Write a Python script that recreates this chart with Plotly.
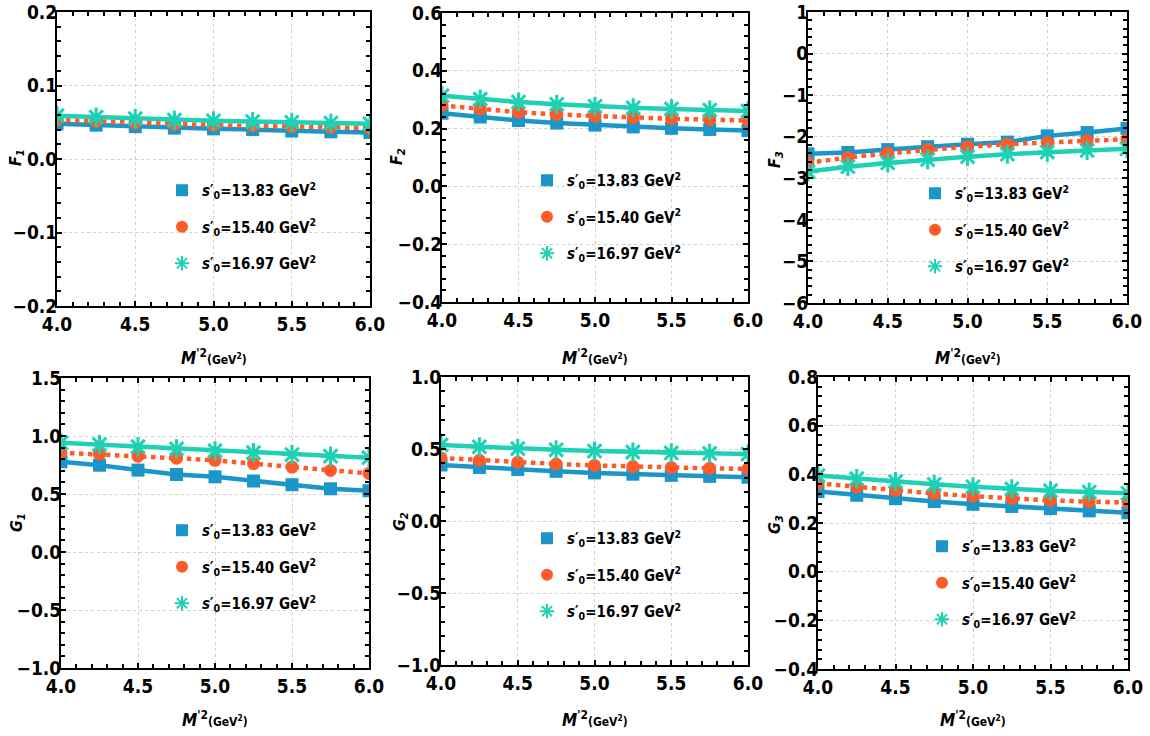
import plotly.graph_objects as go

W, H = 1150, 736

m2 = [4.0, 4.25, 4.5, 4.75, 5.0, 5.25, 5.5, 5.75, 6.0]

series_names = ["13.83", "15.40", "16.97"]

F1_a = [0.048, 0.046, 0.044, 0.042, 0.041, 0.040, 0.038, 0.037, 0.036]
F1_b = [0.053, 0.051, 0.049, 0.047, 0.046, 0.045, 0.044, 0.043, 0.042]
F1_c = [0.059, 0.057, 0.055, 0.053, 0.052, 0.051, 0.050, 0.049, 0.048]

F2_a = [0.253, 0.240, 0.228, 0.219, 0.212, 0.206, 0.201, 0.197, 0.193]
F2_b = [0.280, 0.268, 0.257, 0.249, 0.243, 0.238, 0.234, 0.231, 0.228]
F2_c = [0.314, 0.302, 0.292, 0.284, 0.277, 0.272, 0.268, 0.264, 0.261]

F3_a = [-2.41, -2.38, -2.31, -2.24, -2.18, -2.13, -1.98, -1.90, -1.80]
F3_b = [-2.63, -2.50, -2.40, -2.31, -2.24, -2.18, -2.14, -2.10, -2.06]
F3_c = [-2.84, -2.72, -2.63, -2.55, -2.48, -2.42, -2.37, -2.33, -2.29]

G1_a = [0.778, 0.748, 0.706, 0.668, 0.648, 0.612, 0.580, 0.545, 0.528]
G1_b = [0.856, 0.843, 0.826, 0.808, 0.790, 0.762, 0.732, 0.703, 0.677]
G1_c = [0.942, 0.926, 0.908, 0.890, 0.873, 0.856, 0.840, 0.826, 0.813]

G2_a = [0.389, 0.372, 0.357, 0.345, 0.334, 0.325, 0.317, 0.310, 0.304]
G2_b = [0.438, 0.422, 0.408, 0.396, 0.386, 0.378, 0.371, 0.366, 0.362]
G2_c = [0.528, 0.515, 0.503, 0.494, 0.486, 0.479, 0.473, 0.469, 0.465]

G3_a = [0.329, 0.314, 0.300, 0.288, 0.277, 0.268, 0.259, 0.250, 0.242]
G3_b = [0.363, 0.348, 0.334, 0.321, 0.310, 0.301, 0.293, 0.288, 0.284]
G3_c = [0.395, 0.382, 0.370, 0.359, 0.349, 0.340, 0.333, 0.327, 0.322]

panel_labels = ["F<sub>1</sub>", "F<sub>2</sub>", "F<sub>3</sub>",
                "G<sub>1</sub>", "G<sub>2</sub>", "G<sub>3</sub>"]
x_title = "<i>M</i><sup>'2</sup><span style='font-size:12px'>(GeV<sup>2</sup>)</span>"
panel_data = [(F1_a, F1_b, F1_c), (F2_a, F2_b, F2_c), (F3_a, F3_b, F3_c),
              (G1_a, G1_b, G1_c), (G2_a, G2_b, G2_c), (G3_a, G3_b, G3_c)]
y_ranges = [(-0.2, 0.2), (-0.4, 0.6), (-6, 1), (-1.0, 1.5), (-1.0, 1.0), (-0.4, 0.8)]
y_dticks = [0.1, 0.2, 1, 0.5, 0.5, 0.2]
y_fmt = [".1f", ".1f", "d", ".1f", ".1f", ".1f"]

# pixel boxes (left, right, top, bottom)
boxes = [(57, 370, 12, 306), (442, 748, 13, 302), (808, 1127, 12, 303),
         (61, 369, 378, 668), (441, 748, 377, 665), (818, 1128, 377, 669)]
# pixel position of the first legend marker centre
leg_pos = [(183, 190), (548, 180), (936, 193), (183, 530), (548, 538), (943, 546)]
ytitle_pos = [(16, 158), (398, 157), (776, 160), (17, 523), (400, 522), (775, 525)]
xtitle_y = [357, 357, 357, 719, 719, 719]


def fx(px):
    return px / W


def fy(py):
    return 1 - py / H


colors = ["#1a96c8", "#ff5a28", "#1dd2b4"]
symbols = ["square", "circle", "asterisk-open"]
msizes = [13, 13, 16]
dashes = ["solid", "dot", "solid"]

FONT = "Liberation Sans Narrow, DejaVu Sans Condensed, Arial Narrow, Liberation Sans, Arial, sans-serif"

fig = go.Figure()
layout = {}
annotations = []
for i in range(6):
    ax = "" if i == 0 else str(i + 1)
    xa, ya = "x" + ax, "y" + ax
    l, r, t, b = boxes[i]
    leg = "legend" if i == 0 else "legend" + str(i + 1)
    for k in range(3):
        ys = panel_data[i][k]
        fig.add_trace(go.Scatter(
            x=m2, y=ys, xaxis=xa, yaxis=ya, mode="lines+markers",
            line=dict(color=colors[k], width=4.5, dash=dashes[k]),
            marker=dict(symbol=symbols[k], size=msizes[k], color=colors[k],
                        line=dict(color=colors[k], width=3 if k == 2 else 0)),
            showlegend=False, hoverinfo="x+y"))
    for k in range(3):
        fig.add_trace(go.Scatter(
            x=[None], y=[None], xaxis=xa, yaxis=ya, mode="markers",
            marker=dict(symbol=symbols[k], size=msizes[k], color=colors[k],
                        line=dict(color=colors[k], width=3 if k == 2 else 0)),
            name="<i>s</i>′<sub>0</sub>=" + series_names[k] + " GeV<sup>2</sup>",
            legend=leg, legendgroup=leg + str(k), showlegend=True))
    common = dict(showline=True, linecolor="black", linewidth=2, mirror="allticks",
                  ticks="inside", ticklen=5, tickwidth=2, tickcolor="black",
                  showgrid=True, gridcolor="#cfcfcf", griddash="dot", gridwidth=1,
                  zeroline=False, automargin=False, ticklabeloverflow="allow",
                  tickfont=dict(family=FONT, size=19, color="black", weight="bold"))
    layout["xaxis" + ax] = dict(
        common, domain=[fx(l), fx(r)], anchor=ya, range=[4.0, 6.0],
        dtick=0.5, tick0=4.0, tickformat=".1f",
        minor=dict(ticks="inside", ticklen=4, tickwidth=2, tickcolor="black", dtick=0.1, showgrid=False))
    y0, y1 = y_ranges[i]
    layout["yaxis" + ax] = dict(
        common, domain=[fy(b), fy(t)], anchor=xa, range=[y0, y1],
        dtick=y_dticks[i], tick0=y0, tickformat=y_fmt[i], ticklabelstandoff=-6,
        minor=dict(ticks="inside", ticklen=4, tickwidth=2, tickcolor="black",
                   dtick=y_dticks[i] / 5, showgrid=False))
    lx, ly = leg_pos[i]
    layout[leg] = dict(x=fx(lx - 21), y=fy(ly - 16), xanchor="left", yanchor="top",
                       bgcolor="rgba(0,0,0,0)", borderwidth=0, itemwidth=30,
                       tracegroupgap=14, itemsizing="constant",
                       font=dict(family=FONT, size=15, color="black", weight="bold"))
    tx, ty = ytitle_pos[i]
    annotations.append(dict(text="<i>" + panel_labels[i] + "</i>", x=fx(tx), y=fy(ty),
                            xref="paper", yref="paper", showarrow=False, textangle=-90,
                            xanchor="center", yanchor="middle",
                            font=dict(family=FONT, size=16, color="black", weight="bold")))
    annotations.append(dict(text=x_title, x=fx((l + r) / 2), y=fy(xtitle_y[i]),
                            xref="paper", yref="paper", showarrow=False,
                            xanchor="center", yanchor="middle",
                            font=dict(family=FONT, size=17, color="black", weight="bold")))

fig.update_layout(width=W, height=H, margin=dict(l=0, r=0, t=0, b=0, autoexpand=False),
                  paper_bgcolor="white", plot_bgcolor="white",
                  annotations=annotations, **layout)
fig.write_html("out.html", config={"displayModeBar": False},
               post_script="document.body.style.margin='0';")
